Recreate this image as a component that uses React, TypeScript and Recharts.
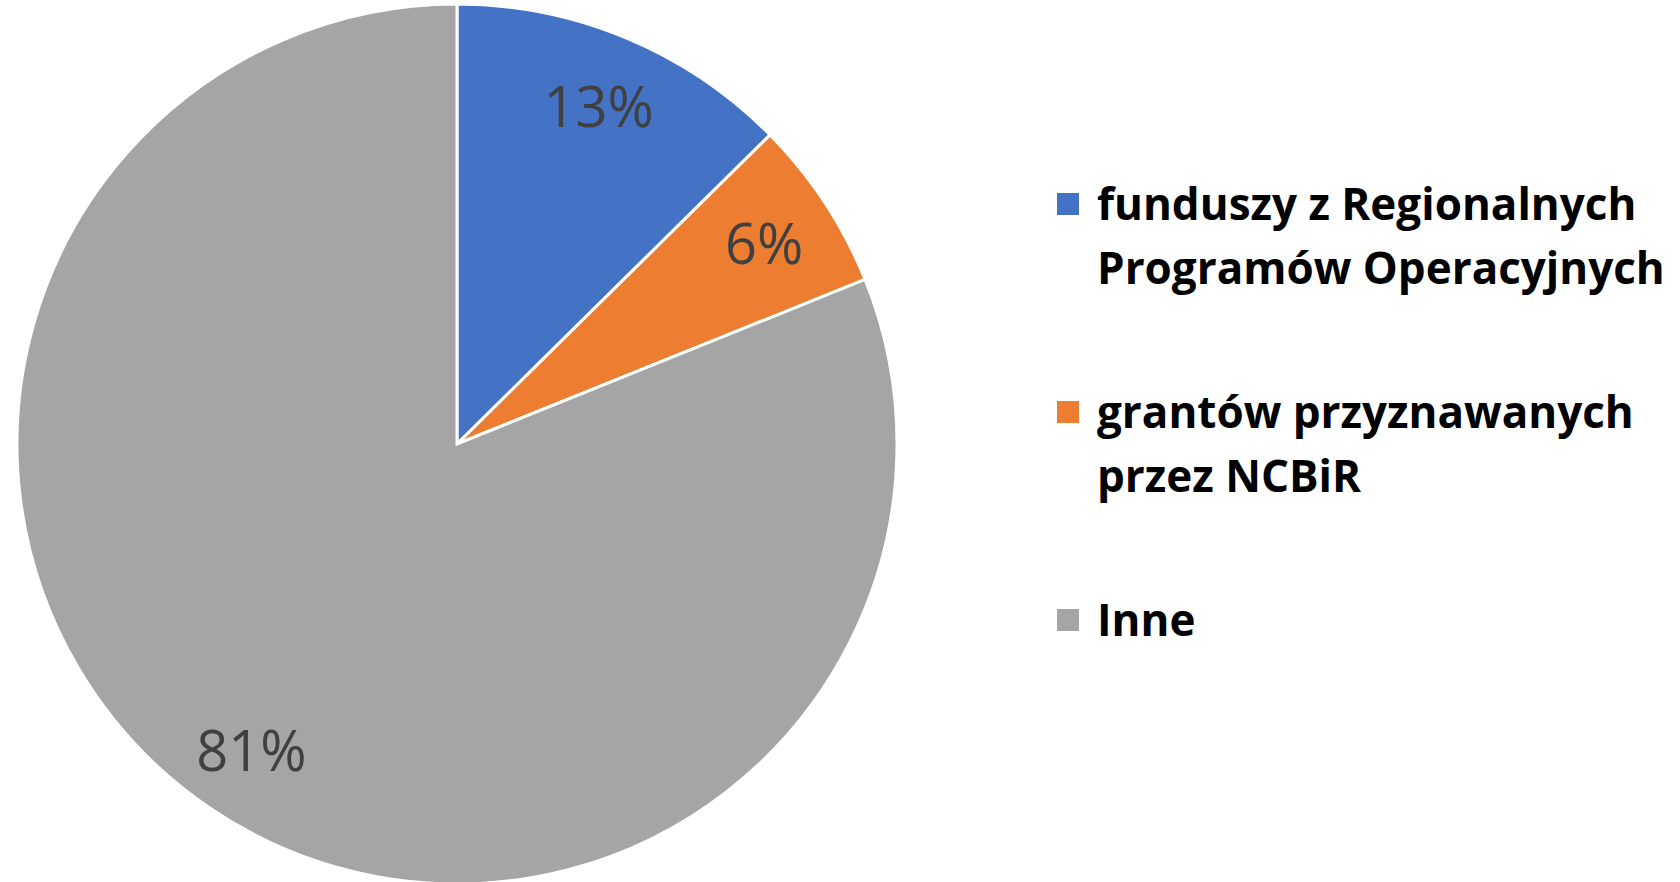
import { PieChart, Pie, Cell, Legend } from 'recharts';

const names = ['funduszy z Regionalnych\nProgramów Operacyjnych', 'grantów przyznawanych\nprzez NCBiR', 'Inne'];
const shares = [12.6, 6.3, 81.1];
const colors = ['#4472C4', '#ED7D31', '#A5A5A5'];

const data = names.map((name, i) => ({ name, value: shares[i] }));

const RAD = Math.PI / 180;

function renderLabel(props: any) {
    const { cx, cy, midAngle, outerRadius, percent } = props;
    const r = outerRadius * 0.835;
    const x = cx + r * Math.cos(-midAngle * RAD);
    const y = cy + r * Math.sin(-midAngle * RAD);
    return (
        <text
            x={x}
            y={y}
            fill="#404040"
            textAnchor="middle"
            dominantBaseline="central"
            fontFamily="'Open Sans', sans-serif"
            fontSize={56}
        >
            {`${Math.round(percent * 100)}%`}
        </text>
    );
}

function LegendBox() {
    return (
        <div style={{ display: 'flex', flexDirection: 'column', gap: 80, fontFamily: "'Open Sans', sans-serif" }}>
            {data.map((d, i) => (
                <div key={d.name} style={{ position: 'relative', paddingLeft: 40 }}>
                    <span
                        style={{
                            position: 'absolute',
                            left: 0,
                            top: 22,
                            width: 22,
                            height: 22,
                            background: colors[i],
                        }}
                    />
                    <div
                        style={{
                            whiteSpace: 'pre',
                            fontSize: 44,
                            lineHeight: '64px',
                            fontWeight: 700,
                            color: '#000',
                        }}
                    >
                        {d.name}
                    </div>
                </div>
            ))}
        </div>
    );
}

export default function App() {
    return (
        <div style={{ position: 'absolute', left: 0, top: 0, width: 1680, height: 882, background: '#fff', overflow: 'hidden' }}>
            <PieChart width={1680} height={882} margin={{ top: 0, right: 0, bottom: 0, left: 0 }}>
                <Pie
                    data={data}
                    dataKey="value"
                    cx={457}
                    cy={444}
                    outerRadius={440}
                    startAngle={90}
                    endAngle={-270}
                    stroke="#fff"
                    strokeWidth={3}
                    label={renderLabel}
                    labelLine={false}
                    isAnimationActive={false}
                >
                    {data.map((d, i) => (
                        <Cell key={d.name} fill={colors[i]} />
                    ))}
                </Pie>
                <Legend
                    content={<LegendBox />}
                    wrapperStyle={{ position: 'absolute', left: 1057, top: 171, width: 623 }}
                />
            </PieChart>
        </div>
    );
}
